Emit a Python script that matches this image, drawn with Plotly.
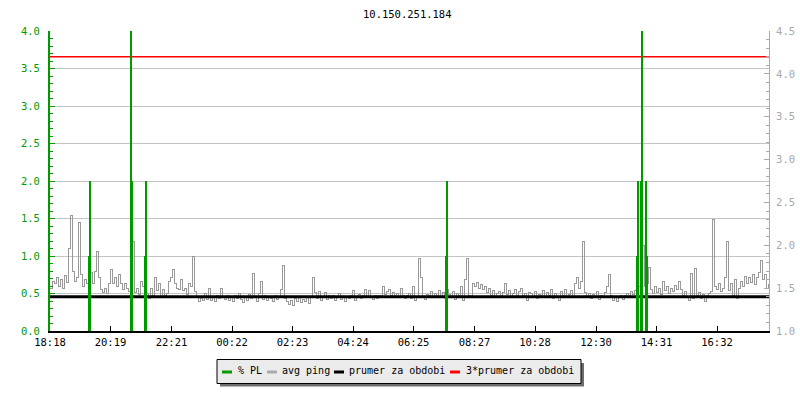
import datetime as dt
import plotly.graph_objects as go

# ---------------- data ----------------
title_text = "10.150.251.184"
start_time = dt.datetime(2024, 1, 1, 18, 18)
sample_step_min = 4  # avg ping sampled every 4 minutes

avg_ping = [
    # 18:18 - 22:14
    1.50, 1.58, 1.55, 1.62, 1.52, 1.60, 1.50, 1.65, 1.57, 1.96,
    2.35, 1.70, 1.58, 1.62, 2.27, 1.66, 1.52, 1.60, 1.55, 1.62,
    1.68, 1.55, 1.69, 1.93, 1.62, 1.48, 1.45, 1.50, 1.44, 1.55,
    1.72, 1.56, 1.62, 1.52, 1.66, 1.55, 1.48, 1.56, 1.50, 1.46,
    1.60, 2.04, 1.45, 1.50, 1.43, 1.58, 1.52, 1.64, 1.44, 1.38,
    1.50, 1.42, 1.62, 1.47, 1.55, 1.40, 1.48, 1.42, 1.44, 1.58,
    # 22:18 - 02:14
    1.62, 1.72, 1.55, 1.50, 1.48, 1.60, 1.47, 1.50, 1.43, 1.55,
    1.52, 1.875, 1.46, 1.40, 1.34, 1.38, 1.36, 1.44, 1.37, 1.50,
    1.36, 1.40, 1.35, 1.42, 1.38, 1.50, 1.40, 1.37, 1.42, 1.36,
    1.39, 1.35, 1.41, 1.38, 1.44, 1.37, 1.33, 1.40, 1.36, 1.43,
    1.38, 1.67, 1.40, 1.35, 1.44, 1.58, 1.37, 1.41, 1.36, 1.40,
    1.38, 1.35, 1.42, 1.37, 1.40, 1.48, 1.76, 1.38, 1.35, 1.31,
    # 02:18 - 06:14
    1.36, 1.30, 1.38, 1.34, 1.40, 1.33, 1.37, 1.35, 1.39, 1.32,
    1.40, 1.62, 1.45, 1.38, 1.46, 1.36, 1.40, 1.45, 1.37, 1.41,
    1.38, 1.42, 1.36, 1.40, 1.44, 1.37, 1.39, 1.35, 1.40, 1.38,
    1.42, 1.47, 1.36, 1.40, 1.43, 1.38, 1.41, 1.48, 1.39, 1.47,
    1.40, 1.37, 1.42, 1.38, 1.41, 1.39, 1.52, 1.43, 1.46, 1.48,
    1.41, 1.45, 1.40, 1.44, 1.39, 1.50, 1.42, 1.38, 1.41, 1.44,
    # 06:18 - 10:14
    1.38, 1.52, 1.36, 1.40, 1.85, 1.62, 1.40, 1.37, 1.43, 1.41,
    1.46, 1.39, 1.44, 1.42, 1.47, 1.40, 1.45, 1.38, 1.48, 1.43,
    1.40, 1.46, 1.37, 1.44, 1.41, 1.52, 1.36, 1.60, 1.85, 1.42,
    1.39, 1.55, 1.52, 1.57, 1.50, 1.54, 1.48, 1.52, 1.45, 1.50,
    1.42, 1.47, 1.40, 1.44, 1.46, 1.41, 1.45, 1.56, 1.43, 1.47,
    1.40, 1.44, 1.48, 1.42, 1.46, 1.50, 1.41, 1.44, 1.36, 1.45,
    # 10:18 - 14:14
    1.44, 1.40, 1.46, 1.38, 1.43, 1.41, 1.47, 1.39, 1.45, 1.42,
    1.48, 1.38, 1.44, 1.40, 1.36, 1.46, 1.41, 1.49, 1.39, 1.43,
    1.47, 1.40, 1.56, 1.62, 1.50, 1.58, 2.04, 1.45, 1.40, 1.44,
    1.38, 1.43, 1.40, 1.46, 1.37, 1.42, 1.39, 1.45, 1.52, 1.66,
    1.41, 1.36, 1.40, 1.35, 1.39, 1.42, 1.37, 1.41, 1.44, 1.40,
    1.46, 1.43, 1.47, 1.44, 1.52, 1.62, 2.00, 1.52, 1.55, 1.74,
    # 14:18 - 18:14
    1.48, 1.44, 1.52, 1.45, 1.50, 1.43, 1.58, 1.47, 1.52, 1.44,
    1.50, 1.46, 1.53, 1.49, 1.58, 1.48, 1.42, 1.46, 1.40, 1.36,
    1.67, 1.38, 1.73, 1.42, 1.45, 1.38, 1.43, 1.35, 1.41, 1.44,
    1.46, 2.30, 1.52, 1.48, 1.56, 1.46, 1.50, 1.62, 2.04, 1.47,
    1.55, 1.42, 1.60, 1.38, 1.50, 1.58, 1.52, 1.64, 1.55, 1.62,
    1.57, 1.66, 1.54, 1.62, 1.68, 1.82, 1.60, 1.66, 1.50, 1.55,
]

pl_times = ["19:36", "19:38", "21:00", "21:02", "21:28", "21:30",
            "07:30", "07:32", "13:52", "13:54", "14:00", "14:02",
            "14:10", "14:12"]
pl_values = [1.0, 2.0, 4.0, 2.0, 1.0, 2.0,
             1.0, 2.0, 1.0, 2.0, 2.0, 4.0,
             2.0, 1.0]

prumer_value = 1.40
triple_prumer_value = 4.20

x_tick_labels = ["18:18", "20:19", "22:21", "00:22", "02:23", "04:24",
                 "06:25", "08:27", "10:28", "12:30", "14:31", "16:32"]

legend_labels = ["% PL", "avg ping", "prumer za obdobi", "3*prumer za obdobi"]

# ---------------- styling ----------------
GREEN = "#009900"
GRAY = "#999999"
AXGRAY = "#aaaaaa"
FONT = "DejaVu Sans Mono"
FS = 10.5
FS_LEG = 10

W, H = 800, 400
ML, MR, MT, MB = 50, 31, 31, 69
PW, PH = W - ML - MR, H - MT - MB


def px(x):
    return (x - ML) / PW


def py(y):
    return (H - MB - y) / PH


def clock_to_dt(label):
    h, m = map(int, label.split(":"))
    t = start_time.replace(hour=h, minute=m)
    if t < start_time:
        t += dt.timedelta(days=1)
    return t


ping_x = [start_time + dt.timedelta(minutes=sample_step_min * i) for i in range(len(avg_ping))]
end_time = start_time + dt.timedelta(minutes=1438)
pl_x = [clock_to_dt(t) for t in pl_times]
tick_vals = [clock_to_dt(t) for t in x_tick_labels]

fig = go.Figure()

# avg ping (right axis = yaxis, base layer)
fig.add_trace(go.Scatter(x=ping_x, y=avg_ping, mode="lines", yaxis="y",
                         line=dict(color=GRAY, width=1, shape="hv"),
                         hoverinfo="skip"))
fig.add_trace(go.Scatter(x=[start_time, end_time], y=[prumer_value] * 2, mode="lines",
                         yaxis="y", line=dict(color="black", width=3), hoverinfo="skip"))
fig.add_trace(go.Scatter(x=[start_time, end_time], y=[triple_prumer_value] * 2, mode="lines",
                         yaxis="y", line=dict(color="#ff0000", width=1.6), hoverinfo="skip"))

# % PL (left axis = yaxis2, overlay on top)
fig.add_trace(go.Bar(x=pl_x, y=pl_values, yaxis="y2", width=[170000] * len(pl_x),
                     marker=dict(color=GREEN, line=dict(width=0)), hoverinfo="skip"))

fig.update_layout(
    width=W, height=H,
    margin=dict(l=ML, r=MR, t=MT, b=MB, autoexpand=False),
    plot_bgcolor="white", paper_bgcolor="white",
    showlegend=False,
    font=dict(family=FONT, size=FS, color="black"),
    bargap=0,
    xaxis=dict(type="date", range=[start_time, end_time],
               tickmode="array", tickvals=tick_vals, ticktext=x_tick_labels,
               ticks="inside", ticklen=5, tickcolor="black", tickwidth=1,
               showline=True, linecolor="black", linewidth=2,
               showgrid=False, zeroline=False, automargin=False,
               tickfont=dict(family=FONT, size=FS, color="black")),
    yaxis=dict(side="right", range=[1, 4.5], tick0=1, dtick=0.5, tickformat=".1f",
               ticks="inside", ticklen=5, tickcolor=AXGRAY,
               showline=True, linecolor=AXGRAY, linewidth=1,
               showgrid=False, zeroline=False, automargin=False,
               ticklabelstandoff=4,
               minor=dict(dtick=0.1, tick0=1, ticks="inside", ticklen=3,
                          tickcolor=AXGRAY, showgrid=False),
               tickfont=dict(family=FONT, size=FS, color="#a8a8a8")),
    yaxis2=dict(overlaying="y", side="left", range=[0, 4], tick0=0, dtick=0.5,
                tickformat=".1f",
                ticks="inside", ticklen=5, tickcolor=GREEN,
                showline=True, linecolor=GREEN, linewidth=2,
                showgrid=True, gridcolor="#c4c4c4", gridwidth=1,
                zeroline=False, automargin=False,
                ticklabelstandoff=6,
                minor=dict(dtick=0.1, tick0=0, ticks="inside", ticklen=3,
                           tickcolor=GREEN, showgrid=False),
                tickfont=dict(family=FONT, size=FS, color=GREEN)),
)

shapes = []
annotations = []

# title
annotations.append(dict(text=title_text, xref="paper", yref="paper",
                        x=px(407), y=py(14), xanchor="center", yanchor="middle",
                        showarrow=False, font=dict(family=FONT, size=FS, color="black")))

# legend box with shadow
shapes.append(dict(type="rect", xref="paper", yref="paper",
                   x0=px(220), x1=px(584), y0=py(386.5), y1=py(363),
                   fillcolor="#6e6e6e", line=dict(width=0), layer="above"))
shapes.append(dict(type="rect", xref="paper", yref="paper",
                   x0=px(217), x1=px(581), y0=py(383.5), y1=py(359.5),
                   fillcolor="#ebebeb", line=dict(color="black", width=1), layer="above"))

legend_colors = [GREEN, "#aaaaaa", "black", "#ff0000"]
sample_x = [222, 267, 334, 450]
text_x = [236, 280, 347, 464]
for lab, col, sx, tx in zip(legend_labels, legend_colors, sample_x, text_x):
    shapes.append(dict(type="line", xref="paper", yref="paper",
                       x0=px(sx), x1=px(sx + 10), y0=py(372), y1=py(372),
                       line=dict(color=col, width=3), layer="above"))
    annotations.append(dict(text=lab, xref="paper", yref="paper",
                            x=px(tx), y=py(370.5), xanchor="left", yanchor="middle",
                            showarrow=False, font=dict(family=FONT, size=FS_LEG, color="black")))

fig.update_layout(shapes=shapes, annotations=annotations)

post_js = """
document.body.style.margin='0';
function crispPing(){
  var t = document.querySelectorAll('.scatterlayer .trace');
  if (t.length) {
    var p = t[0].querySelector('path.js-line');
    if (p) { p.style.shapeRendering = 'crispEdges'; }
  }
}
crispPing();
setTimeout(crispPing, 0);
"""

fig.write_html("out.html", config={"displayModeBar": False}, post_script=post_js)
